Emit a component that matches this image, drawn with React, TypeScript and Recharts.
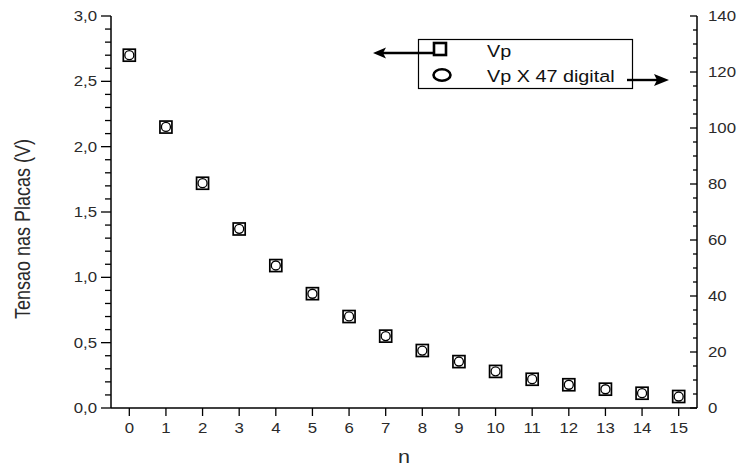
import { ScatterChart, Scatter, XAxis, YAxis } from 'recharts'

// Ciclos n e tensao medida nas placas
const nValues = [0, 1, 2, 3, 4, 5, 6, 7, 8, 9, 10, 11, 12, 13, 14, 15]
const vp = [2.7, 2.15, 1.72, 1.37, 1.09, 0.875, 0.7, 0.55, 0.44, 0.355, 0.28, 0.22, 0.178, 0.144, 0.113, 0.088]
const vpDigital = [126, 100.4, 80.3, 64, 50.9, 40.8, 32.7, 25.7, 20.5, 16.6, 13.1, 10.3, 8.3, 6.7, 5.3, 4.1]

const leftMajor = ['0,0', '0,5', '1,0', '1,5', '2,0', '2,5', '3,0']
const rightMajor = ['0', '20', '40', '60', '80', '100', '120', '140']

const leftTicks = Array.from({ length: 31 }, (_, i) => i / 10)
const rightTicks = Array.from({ length: 29 }, (_, i) => i * 5)

const squareData = nValues.map((n, i) => ({ n, v: vp[i] }))
const circleData = nValues.map((n, i) => ({ n, v: vpDigital[i] }))

const FONT = '"Liberation Sans", Arial, sans-serif'
const TXT = '#2a2a2a'
const SX = 1.2 // o original esta esticado na horizontal

// texto com leve esticamento horizontal, ancorado em (x, y)
const Txt = ({ x, y, anchor = 'start', size = 14, fill = TXT, rotate = 0, children }: any) => (
  <text
    transform={`translate(${x} ${y}) rotate(${rotate}) scale(${rotate ? 1 : SX} ${rotate ? SX : 1})`}
    x={0}
    y={0}
    textAnchor={anchor}
    fontSize={size}
    fontFamily={FONT}
    fill={fill}
  >
    {children}
  </text>
)

const LeftTick = (props: any) => {
  const { x, y, payload } = props
  const idx = Math.round(payload.value * 10)
  const major = idx % 5 === 0
  return (
    <g>
      <line x1={x} x2={x - (major ? 10 : 6)} y1={y} y2={y} stroke="#000" strokeWidth={1.3} />
      {major && (
        <Txt x={x - 14} y={y + 5} anchor="end">
          {leftMajor[idx / 5]}
        </Txt>
      )}
    </g>
  )
}

const RightTick = (props: any) => {
  const { x, y, payload } = props
  const major = payload.value % 20 === 0
  return (
    <g>
      <line x1={x} x2={x - (major ? 7 : 4)} y1={y} y2={y} stroke="#000" strokeWidth={1.3} />
      {major && (
        <Txt x={x + 11} y={y + 5}>
          {rightMajor[payload.value / 20]}
        </Txt>
      )}
    </g>
  )
}

const BottomTick = (props: any) => {
  const { x, y, payload } = props
  return (
    <g>
      <line x1={x} x2={x} y1={y} y2={y + 8} stroke="#000" strokeWidth={1.3} />
      <Txt x={x} y={y + 25} anchor="middle">
        {payload.value}
      </Txt>
    </g>
  )
}

const TopTick = (props: any) => {
  const { x, y } = props
  return <line x1={x} x2={x} y1={y} y2={y + 7} stroke="#000" strokeWidth={1.3} />
}

const SquareShape = (props: any) => (
  <rect x={props.cx - 6} y={props.cy - 6} width={12} height={12} fill="#fff" stroke="#000" strokeWidth={1.7} />
)

const CircleShape = (props: any) => (
  <circle cx={props.cx} cy={props.cy} r={4.5} fill="#fff" stroke="#000" strokeWidth={1.3} />
)

const LegendBox = () => (
  <svg
    width={320}
    height={70}
    style={{ position: 'absolute', left: 360, top: 30, overflow: 'visible' }}
  >
    <rect x={58.5} y={9.5} width={214} height={49} fill="#fff" stroke="#000" strokeWidth={1.2} />
    <rect x={74} y={13} width={12} height={12} fill="#fff" stroke="#000" strokeWidth={2.6} />
    <ellipse cx={82} cy={45} rx={8.5} ry={5.7} fill="#fff" stroke="#000" strokeWidth={2.6} />
    <Txt x={127} y={27} size={16.5} fill="#111">Vp</Txt>
    <Txt x={127} y={52} size={16.5} fill="#111">Vp X 47 digital</Txt>
    {/* seta para o eixo esquerdo */}
    <line x1={73} y1={23} x2={22} y2={23} stroke="#000" strokeWidth={2.4} />
    <polygon points="13,23 26,17.5 23,23 26,28.5" fill="#000" />
    {/* seta para o eixo direito */}
    <line x1={267} y1={50} x2={298} y2={50} stroke="#000" strokeWidth={2.4} />
    <polygon points="309,50 294,44 297,50 294,56" fill="#000" />
  </svg>
)

export default function App() {
  return (
    <div style={{ position: 'absolute', left: 0, top: 0, width: 739, height: 469, background: '#fff' }}>
      <ScatterChart width={739} height={469} margin={{ top: 16, right: 0, bottom: 0, left: 0 }}>
        <XAxis
          dataKey="n"
          type="number"
          domain={[-0.5, 15.5]}
          ticks={nValues}
          interval={0}
          height={61}
          tickSize={0}
          tickMargin={0}
          tick={(p: any) => <BottomTick {...p} />}
          axisLine={{ stroke: '#000', strokeWidth: 1.5 }}
          label={{ content: () => <Txt x={404} y={463} anchor="middle" size={18}>n</Txt> }}
        />
        <XAxis
          xAxisId="top"
          orientation="top"
          dataKey="n"
          type="number"
          domain={[-0.5, 15.5]}
          ticks={nValues}
          interval={0}
          height={0}
          tickSize={0}
          tickMargin={0}
          tick={(p: any) => <TopTick {...p} />}
          axisLine={{ stroke: '#000', strokeWidth: 1.5 }}
        />
        <YAxis
          dataKey="v"
          type="number"
          domain={[0, 3]}
          ticks={leftTicks}
          interval={0}
          width={111}
          tickSize={0}
          tickMargin={0}
          tick={(p: any) => <LeftTick {...p} />}
          axisLine={{ stroke: '#000', strokeWidth: 1.5 }}
          label={{
            content: () => (
              <Txt x={30} y={229} anchor="middle" size={18} rotate={-90}>
                Tensao nas Placas (V)
              </Txt>
            ),
          }}
        />
        <YAxis
          yAxisId="right"
          orientation="right"
          dataKey="v"
          type="number"
          domain={[0, 140]}
          ticks={rightTicks}
          interval={0}
          width={42}
          tickSize={0}
          tickMargin={0}
          tick={(p: any) => <RightTick {...p} />}
          axisLine={{ stroke: '#000', strokeWidth: 1.5 }}
        />
        <Scatter data={squareData} shape={(p: any) => <SquareShape {...p} />} isAnimationActive={false} />
        <Scatter data={circleData} yAxisId="right" shape={(p: any) => <CircleShape {...p} />} isAnimationActive={false} />
      </ScatterChart>
      <LegendBox />
    </div>
  )
}
